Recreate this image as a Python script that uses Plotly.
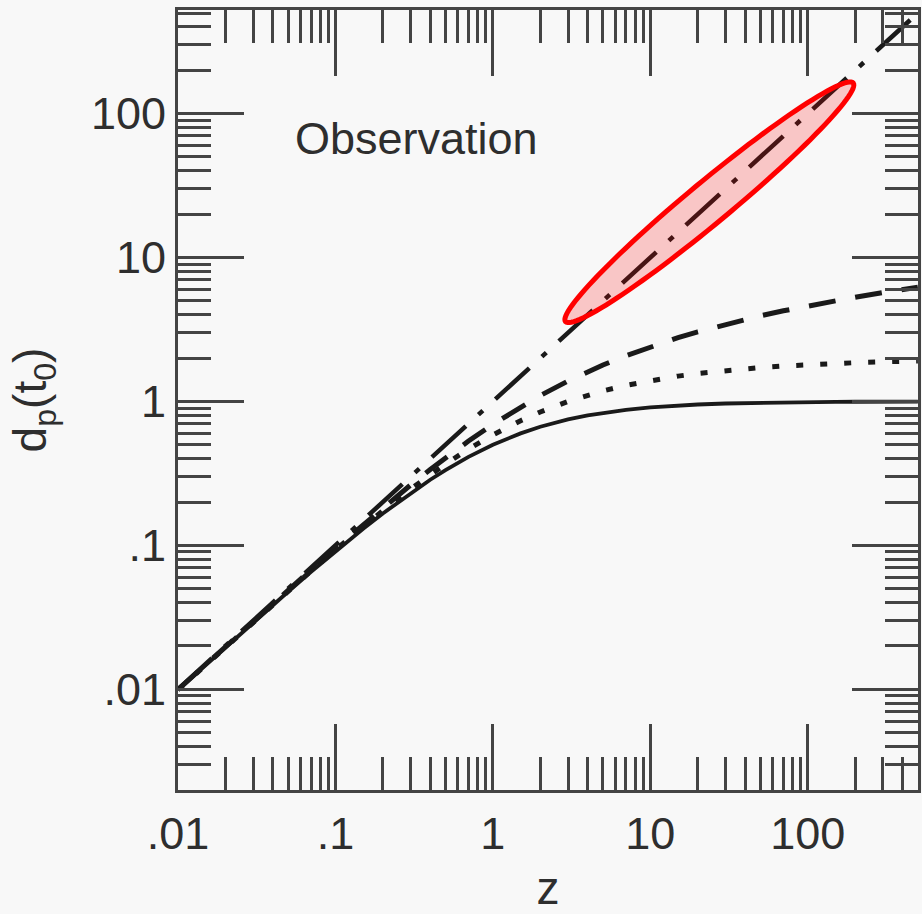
import math
import plotly.graph_objects as go

# ---- data ----
z = [0.01, 0.015, 0.02, 0.03, 0.05, 0.07, 0.1, 0.15, 0.2, 0.3, 0.4, 0.5, 0.7, 1, 1.5, 2, 3, 4, 5, 7,
     10, 15, 20, 30, 50, 70, 100, 150, 200, 300, 500]
d_solid = [0.0099, 0.01478, 0.0196, 0.0291, 0.0476, 0.0654, 0.0909, 0.1304, 0.1667, 0.2308, 0.2857,
           0.3333, 0.4118, 0.5, 0.6, 0.6667, 0.75, 0.8, 0.8333, 0.875, 0.9091, 0.9375, 0.9524, 0.9677,
           0.9804, 0.9859, 0.9901, 0.9934, 0.995, 0.9967, 0.998]
d_dotted = [0.00992, 0.01483, 0.0197, 0.0293, 0.0482, 0.0665, 0.0931, 0.135, 0.1743, 0.2459, 0.3097,
            0.367, 0.4661, 0.5858, 0.7351, 0.8453, 1.0, 1.1056, 1.1835, 1.2929, 1.397, 1.5, 1.5636,
            1.6408, 1.7199, 1.7626, 1.801, 1.8372, 1.8589, 1.8847, 1.9106]
d_dashed = [0.00995, 0.01489, 0.0198, 0.02956, 0.04879, 0.06766, 0.09531, 0.1398, 0.1823, 0.2624,
            0.3365, 0.4055, 0.5306, 0.6931, 0.9163, 1.0986, 1.3863, 1.6094, 1.7918, 2.0794, 2.3979,
            2.7726, 3.0445, 3.434, 3.9318, 4.2627, 4.6151, 5.0173, 5.3033, 5.7071, 6.2166]
d_dashdot = [0.01, 0.015, 0.02, 0.03, 0.05, 0.07, 0.1, 0.15, 0.2, 0.3, 0.4, 0.5, 0.7, 1, 1.5, 2, 3, 4,
             5, 7, 10, 15, 20, 30, 50, 70, 100, 150, 200, 300, 500]

x_tickvals = [0.01, 0.1, 1, 10, 100]
x_ticktext = [".01", ".1", "1", "10", "100"]
y_tickvals = [0.01, 0.1, 1, 10, 100]
y_ticktext = [".01", ".1", "1", "10", "100"]

# ---- layout geometry ----
W, H = 922, 914
ML, MR, MT, MB = 178, 1, 10, 117
PW, PH = W - ML - MR, H - MT - MB

BG = "#f8f8f8"
INK = "#1a1a1a"
AX = "#444444"
TXT = "#2e2e2e"
FONT = "Liberation Sans, Arial, Helvetica, sans-serif"

fig = go.Figure()

def add(y, dash, width):
    fig.add_trace(go.Scatter(x=z, y=y, mode="lines",
                             line=dict(color=INK, width=width, dash=dash),
                             showlegend=False, hoverinfo="skip"))

add(d_solid, "solid", 3.8)
add(d_dotted, "7px,17px", 5)
add(d_dashed, "27px,20px", 5)
add(d_dashdot, "46px,17px,6px,17px", 4.5)

# highlight ellipse (pixel-space description converted to paper coordinates)
cx, cy = 711.5, 204.0
a_len, b_len = 188.0, 21.0
ang = math.radians(39.8)
pts = []
for i in range(121):
    t = 2 * math.pi * i / 120
    px = cx + a_len * math.cos(t) * math.cos(ang) + b_len * math.sin(t) * math.sin(ang)
    py = cy - a_len * math.cos(t) * math.sin(ang) + b_len * math.sin(t) * math.cos(ang)
    pts.append(((px - ML) / PW, (H - MB - py) / PH))
path = "M " + " L ".join(f"{u:.5f},{v:.5f}" for u, v in pts) + " Z"
fig.add_shape(type="path", path=path, xref="paper", yref="paper",
              line=dict(color="#ff0000", width=5), fillcolor="rgba(255,0,0,0.2)", layer="above")

fig.add_annotation(text="Observation", xref="paper", yref="paper",
                   x=(417 - ML) / PW, y=(H - MB - 140) / PH, xanchor="center", yanchor="middle",
                   showarrow=False, font=dict(family=FONT, size=45, color=TXT))

axis_common = dict(
    type="log", showgrid=False, zeroline=False,
    showline=True, linecolor=AX, linewidth=3, mirror="allticks",
    ticks="inside", ticklen=66, tickwidth=2.5, tickcolor=AX,
    tickmode="array",
    tickfont=dict(family=FONT, size=45, color=TXT),
    minor=dict(ticks="inside", ticklen=33, tickwidth=2.5, tickcolor=AX, dtick="D1", showgrid=False),
)

fig.update_xaxes(**axis_common, range=[-2, 2.7], tickvals=x_tickvals, ticktext=x_ticktext,
                 ticklabelstandoff=2,
                 title=dict(text="z", font=dict(family=FONT, size=46, color=TXT), standoff=22))
fig.update_yaxes(**axis_common, range=[-2.7, 2.72], tickvals=y_tickvals, ticktext=y_ticktext,
                 ticklabelstandoff=0,
                 title=dict(text="d<sub>p</sub>(t<sub>0</sub>)", font=dict(family=FONT, size=46, color=TXT), standoff=30))

fig.update_layout(width=W, height=H, margin=dict(l=ML, r=MR, t=MT, b=MB),
                  paper_bgcolor=BG, plot_bgcolor=BG, showlegend=False)

fig.write_html("out.html")
